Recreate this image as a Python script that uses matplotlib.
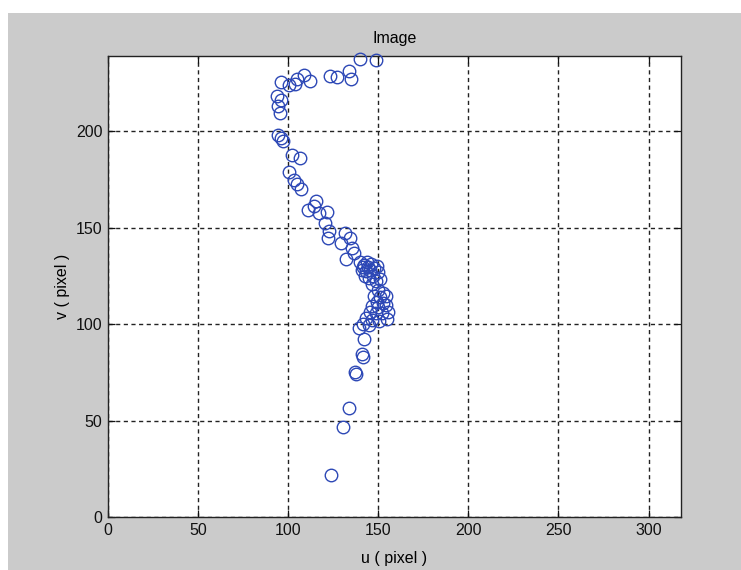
import numpy as np
import matplotlib.pyplot as plt
from matplotlib.patches import Rectangle

plt.rcParams['font.family'] = ['Liberation Sans', 'DejaVu Sans']

# image points (u, v) in pixels
u = [148.9, 140.0, 133.9, 135.0, 127.2, 123.3, 112.2, 108.9, 105.0, 103.9,
     100.6, 96.1, 93.9, 96.1, 94.4, 95.6, 94.4, 96.1, 97.2, 102.2,
     106.7, 100.6, 103.3, 105.0, 107.2, 111.1, 115.6, 114.4, 117.2, 121.7,
     120.6, 122.8, 122.2, 131.7, 134.4, 129.4, 135.6, 136.7, 132.2,
     140.0, 142.2, 143.9, 146.1, 147.8, 141.1, 143.3, 145.6, 149.4, 150.0,
     142.8, 145.0, 147.2, 148.9, 151.1, 146.7, 141.7, 144.4,
     150.0, 152.8, 147.8, 151.1, 154.4, 149.4, 152.8, 146.7, 150.0, 154.4,
     145.6, 148.9, 152.2, 143.3, 146.7, 150.6, 155.0, 141.7, 145.0, 155.6,
     139.4, 142.2, 141.1, 141.7, 137.2, 137.8, 133.9, 130.6, 123.9]
v = [236.8, 237.3, 231.1, 226.9, 228.0, 228.5, 225.9, 229.0, 226.9, 224.4,
     223.8, 225.4, 218.1, 216.1, 213.0, 209.3, 197.9, 196.4, 194.8, 187.6,
     186.0, 178.8, 174.6, 172.5, 169.9, 159.1, 163.7, 161.1, 157.5, 158.0,
     152.3, 148.2, 144.6, 147.2, 144.6, 142.0, 139.4, 136.8, 133.7,
     132.1, 130.6, 132.1, 131.1, 129.0, 128.0, 127.5, 128.0, 130.1, 126.9,
     124.9, 123.8, 124.9, 122.3, 123.3, 120.7, 129.5, 129.5,
     117.6, 116.1, 114.5, 114.0, 114.5, 111.4, 110.9, 109.3, 108.8, 109.8,
     106.2, 105.7, 105.7, 103.1, 102.1, 101.6, 102.6, 100.0, 99.5, 106.2,
     97.9, 92.2, 84.5, 82.9, 75.1, 74.1, 56.5, 46.6, 21.8]

xticks = [0, 50, 100, 150, 200, 250, 300]
yticks = [0, 50, 100, 150, 200]

fig = plt.figure(figsize=(7.41, 5.70), dpi=100, facecolor='#cbcbcb')
# white margins at top and left of the screenshot
fig.patches.append(Rectangle((0, 1 - 13 / 570), 1, 13 / 570, transform=fig.transFigure,
                             facecolor='white', edgecolor='none', zorder=0))
fig.patches.append(Rectangle((0, 0), 8 / 741, 1, transform=fig.transFigure,
                             facecolor='white', edgecolor='none', zorder=0))

ax = fig.add_axes([108 / 741, 53 / 570, 573 / 741, 461 / 570])
ax.plot(u, v, 'o', mfc='none', mec='#2d48b6', ms=9, mew=1.0, clip_on=False, zorder=3)

ax.set_xlim(0, 318)
ax.set_ylim(0, 239)
ax.set_xticks(xticks)
ax.set_yticks(yticks)
ax.tick_params(direction='in', length=5, width=0.9, top=True, right=True,
               labelsize=11.5, colors='#111111', pad=4)
ax.grid(True, color='#222222', linestyle=(0, (3, 2.5)), linewidth=1.0)
for s in ax.spines.values():
    s.set_linewidth(1.0)
    s.set_color('#222222')

ax.set_title('Image', fontsize=11.5, pad=9)
ax.set_xlabel('u ( pixel )', fontsize=11.5, labelpad=10)
ax.set_ylabel('v ( pixel )', fontsize=11.5, labelpad=4)

fig.savefig('out.png', dpi=100, facecolor=fig.get_facecolor())
